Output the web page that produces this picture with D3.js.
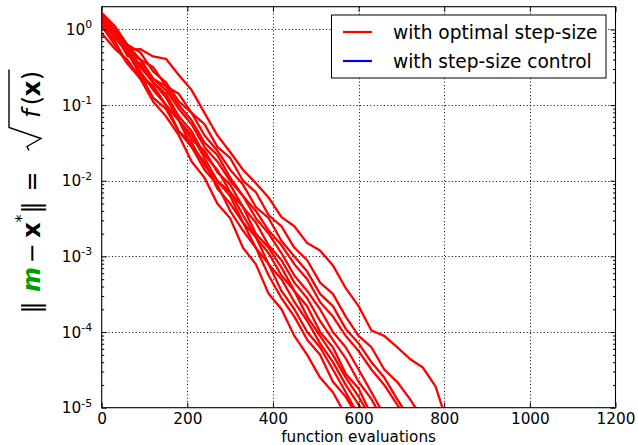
<!DOCTYPE html>
<html>
<head>
<meta charset="utf-8">
<script src="https://cdn.jsdelivr.net/npm/d3@7"></script>
<style>
  body { margin: 0; background: #fff; }
  svg { display: block; font-family: "DejaVu Sans", sans-serif; }
</style>
</head>
<body>
<svg id="chart" width="638" height="445"></svg>
<script>
// function evaluations at which each run was recorded
var evals = [0, 30, 60, 90, 120, 150, 180, 210, 240, 270, 300, 330, 360, 390,
  420, 450, 480, 510, 540, 570, 600, 630, 660, 690, 720, 750, 780, 810];

// ||m - x*|| per run (optimal step-size)
var run1 = [1.12, 0.71, 0.355, 0.224, 0.112, 7.1e-2, 4.0e-2, 1.8e-2, 1.1e-2, 5.0e-3, 3.2e-3, 1.3e-3,
  7.9e-4, 3.2e-4, 2.0e-4, 8.9e-5, 5.0e-5, 2.5e-5, 1.6e-5, 7.9e-6];
var run2 = [1.58, 0.89, 0.56, 0.28, 0.16, 0.10, 4.5e-2, 2.8e-2, 1.4e-2, 8.9e-3, 4.0e-3, 2.2e-3,
  1.3e-3, 5.6e-4, 2.8e-4, 1.6e-4, 7.9e-5, 5.0e-5, 2.2e-5, 1.4e-5, 7.1e-6];
var run3 = [1.26, 0.79, 0.50, 0.25, 0.18, 0.10, 6.3e-2, 2.8e-2, 1.8e-2, 7.9e-3, 5.0e-3, 2.8e-3,
  1.3e-3, 7.9e-4, 3.5e-4, 2.0e-4, 1.0e-4, 6.3e-5, 3.2e-5, 1.6e-5, 7.9e-6];
var run4 = [1.12, 0.63, 0.355, 0.25, 0.126, 8.9e-2, 4.5e-2, 3.2e-2, 1.6e-2, 1.0e-2, 6.3e-3, 2.8e-3,
  1.8e-3, 7.9e-4, 5.0e-4, 2.5e-4, 1.4e-4, 7.1e-5, 4.0e-5, 2.0e-5, 1.1e-5, 5.6e-6];
var run5 = [1.58, 1.0, 0.63, 0.32, 0.20, 0.126, 6.3e-2, 4.0e-2, 2.0e-2, 1.0e-2, 7.1e-3, 3.5e-3,
  1.8e-3, 1.1e-3, 5.6e-4, 3.5e-4, 1.6e-4, 8.9e-5, 5.0e-5, 2.5e-5, 1.4e-5, 7.1e-6];
var run6 = [1.26, 0.89, 0.45, 0.355, 0.20, 0.141, 7.1e-2, 4.5e-2, 2.2e-2, 1.4e-2, 7.1e-3, 4.5e-3,
  2.0e-3, 1.3e-3, 7.1e-4, 3.5e-4, 2.2e-4, 1.0e-4, 6.3e-5, 2.8e-5, 1.8e-5, 7.9e-6];
var run7 = [0.89, 0.56, 0.40, 0.224, 0.178, 0.10, 6.3e-2, 3.5e-2, 2.5e-2, 1.3e-2, 8.9e-3, 4.5e-3,
  2.8e-3, 1.4e-3, 8.9e-4, 4.5e-4, 2.8e-4, 1.4e-4, 7.9e-5, 4.5e-5, 2.2e-5, 1.3e-5, 6.3e-6];
var run8 = [1.58, 1.0, 0.56, 0.40, 0.224, 0.158, 8.9e-2, 5.6e-2, 2.8e-2, 1.8e-2, 1.0e-2, 6.3e-3,
  3.2e-3, 2.0e-3, 1.1e-3, 5.6e-4, 3.5e-4, 2.0e-4, 1.0e-4, 6.3e-5, 3.2e-5, 1.6e-5, 7.9e-6];
var run9 = [1.26, 0.79, 0.50, 0.40, 0.224, 0.178, 0.10, 6.3e-2, 3.2e-2, 2.2e-2, 1.1e-2, 6.3e-3,
  4.0e-3, 2.2e-3, 1.4e-3, 7.9e-4, 5.0e-4, 2.5e-4, 1.6e-4, 8.9e-5, 5.6e-5, 3.2e-5, 2.0e-5, 1.1e-5, 6.3e-6];
var run10 = [1.66, 1.12, 0.63, 0.50, 0.28, 0.20, 0.112, 7.9e-2, 4.0e-2, 2.5e-2, 1.4e-2, 8.9e-3,
  4.5e-3, 3.2e-3, 1.6e-3, 1.0e-3, 6.3e-4, 3.2e-4, 2.2e-4, 1.1e-4, 7.1e-5, 4.0e-5, 2.5e-5, 1.3e-5, 7.1e-6];
var run11 = [1.41, 0.89, 0.63, 0.40, 0.32, 0.178, 0.141, 7.9e-2, 5.6e-2, 2.8e-2, 2.0e-2, 1.0e-2,
  7.1e-3, 3.5e-3, 2.5e-3, 1.3e-3, 8.9e-4, 4.5e-4, 3.2e-4, 1.6e-4, 8.9e-5, 6.3e-5, 3.2e-5, 2.2e-5,
  1.3e-5, 7.1e-6];
var run12 = [1.32, 0.95, 0.54, 0.55, 0.44, 0.41, 0.25, 0.158, 7.9e-2, 4.0e-2, 2.4e-2, 1.4e-2,
  9.3e-3, 6.0e-3, 3.3e-3, 2.5e-3, 1.5e-3, 1.2e-3, 7.6e-4, 3.8e-4, 2.2e-4, 1.05e-4, 8.9e-5, 6.3e-5,
  4.4e-5, 3.4e-5, 1.9e-5, 5.6e-6];
var runs = [run1, run2, run3, run4, run5, run6, run7, run8, run9, run10, run11, run12];

var xTicks = [0, 200, 400, 600, 800, 1000, 1200];
var yExponents = [0, -1, -2, -3, -4, -5];
var legendLabels = ["with optimal step-size", "with step-size control"];
var legendColors = ["#ff0000", "#0000ff"];

var W = 638, H = 445;
var plotL = 101.7, plotR = 615.5, plotT = 6.7, plotB = 407.7;
var svg = d3.select("#chart");

var x = d3.scaleLinear().domain([0, 1200]).range([plotL, plotR]);
var y = d3.scaleLog().domain([1e-5, 2]).range([plotB, plotT]);

svg.append("rect").attr("width", W).attr("height", H).attr("fill", "#fff");

svg.append("clipPath").attr("id", "plotclip")
  .append("rect")
  .attr("x", plotL).attr("y", plotT)
  .attr("width", plotR - plotL).attr("height", plotB - plotT);

// dotted grid
var grid = svg.append("g").attr("stroke", "#000").attr("stroke-width", 1)
  .attr("stroke-dasharray", "1,2.4");
grid.selectAll("line.gx").data(xTicks.slice(1, -1)).enter().append("line")
  .attr("x1", function(d){ return Math.round(x(d)) + 0.5; })
  .attr("x2", function(d){ return Math.round(x(d)) + 0.5; })
  .attr("y1", plotT).attr("y2", plotB);
grid.selectAll("line.gy").data(yExponents.slice(0, -1)).enter().append("line")
  .attr("y1", function(d){ return Math.round(y(Math.pow(10, d))) + 0.5; })
  .attr("y2", function(d){ return Math.round(y(Math.pow(10, d))) + 0.5; })
  .attr("x1", plotL).attr("x2", plotR);

// runs
var line = d3.line()
  .x(function(d, i){ return x(evals[i]); })
  .y(function(d){ return y(d); });
svg.append("g").attr("clip-path", "url(#plotclip)")
  .selectAll("path").data(runs).enter().append("path")
  .attr("d", line)
  .attr("fill", "none")
  .attr("stroke", "#ff0000")
  .attr("stroke-width", 2.3)
  .attr("stroke-linejoin", "round");

// ticks (inward on all four sides)
var minor = [];
yExponents.slice(1).forEach(function(e){
  for (var k = 2; k <= 9; k++){
    var v = k * Math.pow(10, e);
    if (v <= 2) minor.push(v);
  }
});
var majorY = yExponents.map(function(e){ return Math.pow(10, e); });

function axisStyle(g){
  g.select(".domain").remove();
  g.selectAll(".tick line").attr("stroke", "#000").attr("stroke-width", 1);
}
svg.append("g").attr("transform", "translate(0," + plotB + ")")
  .call(d3.axisBottom(x).tickValues(xTicks).tickSize(-5).tickFormat(d3.format("d")))
  .call(axisStyle)
  .call(function(g){
    g.selectAll("text").attr("font-family", "DejaVu Sans").attr("font-size", 15.3)
      .attr("fill", "#000").attr("y", 16).attr("dy", "0");
  });
svg.append("g").attr("transform", "translate(0," + plotT + ")")
  .call(d3.axisTop(x).tickValues(xTicks).tickSize(-5).tickFormat(""))
  .call(axisStyle);
svg.append("g").attr("transform", "translate(" + plotL + ",0)")
  .call(d3.axisLeft(y).tickValues(majorY).tickSize(-5).tickFormat(""))
  .call(axisStyle);
svg.append("g").attr("transform", "translate(" + plotL + ",0)")
  .call(d3.axisLeft(y).tickValues(minor).tickSize(-2.5).tickFormat(""))
  .call(axisStyle);
svg.append("g").attr("transform", "translate(" + plotR + ",0)")
  .call(d3.axisRight(y).tickValues(majorY).tickSize(-5).tickFormat(""))
  .call(axisStyle);
svg.append("g").attr("transform", "translate(" + plotR + ",0)")
  .call(d3.axisRight(y).tickValues(minor).tickSize(-2.5).tickFormat(""))
  .call(axisStyle);

// y tick labels 10^e
var ylab = svg.append("g").attr("font-size", 15.3).attr("fill", "#000");
yExponents.forEach(function(e){
  var t = ylab.append("text")
    .attr("x", 92).attr("y", y(Math.pow(10, e)) + 5.5)
    .attr("text-anchor", "end");
  t.append("tspan").text("10");
  t.append("tspan").attr("font-size", 10.8).attr("dy", -6.5).text(e === 0 ? "0" : "-" + (-e));
});

// frame
svg.append("rect")
  .attr("x", plotL).attr("y", plotT)
  .attr("width", plotR - plotL).attr("height", plotB - plotT)
  .attr("fill", "none").attr("stroke", "#000").attr("stroke-width", 1.1);

// x label
svg.append("text")
  .attr("x", (plotL + plotR) / 2).attr("y", 441.5)
  .attr("text-anchor", "middle").attr("font-size", 15.2)
  .text("function evaluations");

// y label: ||m - x*|| = sqrt(f(x)), glyphs placed along the rotated baseline
var labelParts = [
  {t: "‖", u: -116},
  {t: "m", u: -88, fill: "#00a000", weight: "bold", style: "italic"},
  {t: "−", u: -62},
  {t: "x", u: -38.5, weight: "bold"},
  {t: "*", u: -27, size: 16, v: -13},
  {t: "‖", u: -16},
  {t: "=", u: 10},
  {t: "f", u: 78, style: "italic"},
  {t: "(", u: 91},
  {t: "x", u: 103, weight: "bold"},
  {t: ")", u: 116}
];
var lab = svg.append("g").attr("transform", "translate(40,191.5) rotate(-90)")
  .attr("font-size", 24).attr("fill", "#000");
labelParts.forEach(function(p){
  lab.append("text")
    .attr("x", p.u).attr("y", p.v || 0)
    .attr("text-anchor", "middle")
    .attr("font-size", p.size || null)
    .attr("font-weight", p.weight || null)
    .attr("font-style", p.style || null)
    .attr("fill", p.fill || null)
    .text(p.t);
});
lab.append("path")
  .attr("d", "M41,-11 L45,-13 L53,1 L64,-31 L122,-31")
  .attr("fill", "none").attr("stroke", "#000").attr("stroke-width", 1.4)
  .attr("stroke-linejoin", "miter");

// legend
var lg = svg.append("g");
lg.append("rect").attr("x", 331.5).attr("y", 15).attr("width", 274.5).attr("height", 63)
  .attr("fill", "#fff").attr("stroke", "#000").attr("stroke-width", 1);
legendLabels.forEach(function(name, i){
  var ly = 32 + i * 29;
  lg.append("line").attr("x1", 343).attr("x2", 372).attr("y1", ly).attr("y2", ly)
    .attr("stroke", legendColors[i]).attr("stroke-width", 2.2);
  lg.append("text").attr("x", 393).attr("y", ly + 6.5).attr("font-size", 18.6).text(name);
});
</script>
</body>
</html>
